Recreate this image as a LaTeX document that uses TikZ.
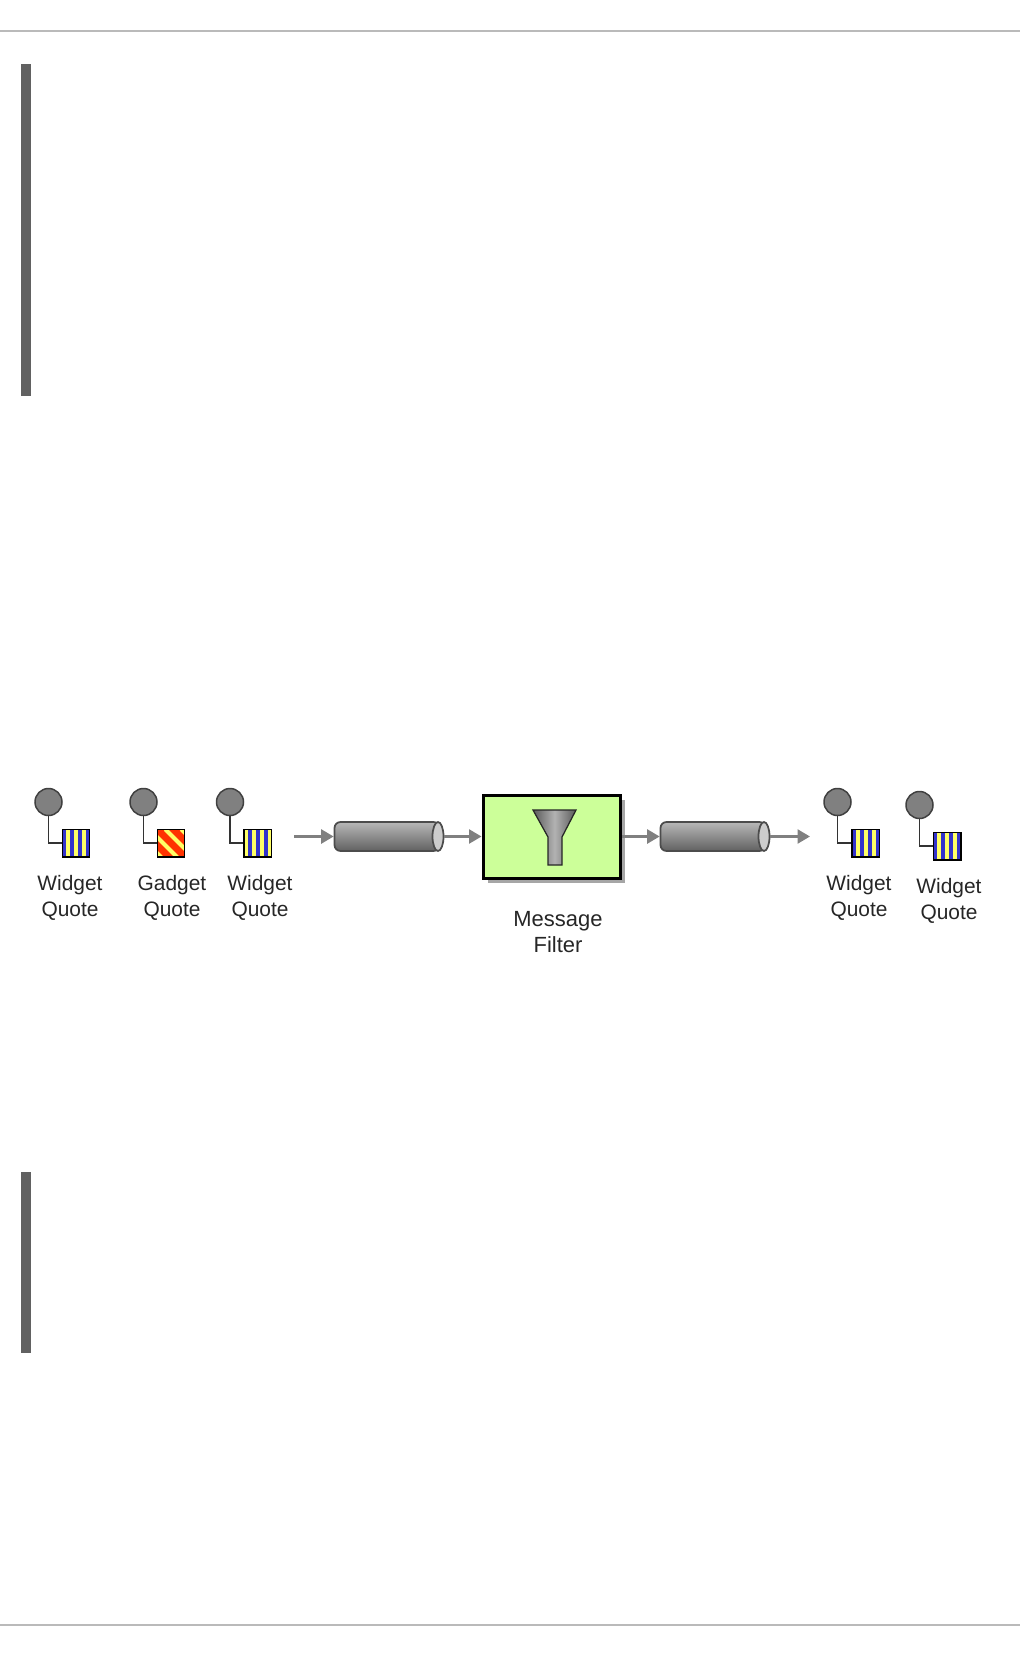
\documentclass[tikz,border=0pt]{standalone}
\usepackage{fontspec}
\setmainfont{Liberation Sans}
\usetikzlibrary{arrows.meta,shadows,shapes.geometric}
\definecolor{szurke}{HTML}{808080}
\definecolor{csik}{HTML}{FFFF66}
\definecolor{kek}{HTML}{3333CC}
\definecolor{piros}{HTML}{FF3300}
\definecolor{zold}{HTML}{CCFF99}
\tikzset{
  perem/.style={fill=black!62,draw=none},
  vonal/.style={fill=black!27,draw=none},
  kor/.style={circle,draw=black!75,fill=szurke,line width=.03cm,minimum size=.54cm,inner sep=0pt},
  lap/.style={rectangle,draw=black,line width=.03cm,minimum size=.55cm,inner sep=0pt},
  kekcsik/.style={lap,fill=csik,path picture={
      \foreach \i in {0,2,4,6}
        \fill[kek] ([xshift=\i*.08cm]path picture bounding box.north west) rectangle ++(4,28);}},
  sargacsik/.style={lap,fill=kek,path picture={
      \foreach \i in {0,2,4,6}
        \fill[csik] ([xshift=\i*.08cm]path picture bounding box.north west) rectangle ++(4,28);}},
  ferdecsik/.style={lap,fill=piros,path picture={
      \foreach \i in {-24,-8,8,24}
        \draw[csik,line width=.08cm] ([xshift=\i*.02cm]path picture bounding box.north west) -- ++(28,28);}},
  kapcs/.style={draw=black!80,line width=.035cm},
  cso/.style={rectangle,draw=black!70,line width=.035cm,rounded corners=.12cm,minimum width=2.1cm,
              minimum height=.58cm,inner sep=0pt,top color=black!28,middle color=black!40,bottom color=black!62},
  csovege/.style={ellipse,draw=black!70,line width=.035cm,fill=black!20,minimum width=.22cm,
              minimum height=.58cm,inner sep=0pt},
  nyil/.style={draw=szurke,line width=.05cm,-{Triangle[length=.25cm,width=.28cm]}},
  szuro/.style={rectangle,draw=black,line width=.06cm,fill=zold,minimum width=2.76cm,
                minimum height=1.66cm,inner sep=0pt,
                drop shadow={shadow xshift=.09cm,shadow yshift=-.09cm,fill=black!35,opacity=1}},
  tolcser/.style={draw=black!85,line width=.025cm,left color=black!65,right color=black!65,middle color=black!30},
  cimke/.style={align=center,text=black!85,inner sep=0pt,font=\fontsize{11.9}{14.8}\selectfont},
}
\begin{document}
\begin{tikzpicture}[x=.02cm,y=-.02cm]
  \useasboundingbox (0,0) rectangle (1020,1656);
  \fill[vonal] (0,30) rectangle (1020,32);
  \fill[vonal] (0,1624) rectangle (1020,1626);
  \fill[perem] (21,64) rectangle (31,396);
  \fill[perem] (21,1172) rectangle (31,1353);

  \node[kor] (K1) at (48.5,802) {};
  \node[kekcsik] (L1) at (76,843) {};
  \node[cimke] (C1) at (70,898) {Widget\\Quote};
  \node[kor] (K2) at (143.5,802) {};
  \node[ferdecsik] (L2) at (171,843) {};
  \node[cimke] (C2) at (172,898) {Gadget\\Quote};
  \node[kor] (K3) at (230,802) {};
  \node[sargacsik] (L3) at (257.5,843) {};
  \node[cimke] (C3) at (260,898) {Widget\\Quote};
  \node[kor] (K4) at (837.5,802) {};
  \node[kekcsik] (L4) at (865.5,843) {};
  \node[cimke] (C4) at (859,898) {Widget\\Quote};
  \node[kor] (K5) at (919.5,805) {};
  \node[kekcsik] (L5) at (947,846) {};
  \node[cimke] (C5) at (949,900.5) {Widget\\Quote};
  \draw[kapcs] (K1) |- (L1);
  \draw[kapcs] (K2) |- (L2);
  \draw[kapcs] (K3) |- (L3);
  \draw[kapcs] (K4) |- (L4);
  \draw[kapcs] (K5) |- (L5);

  \coordinate (be) at (294,836.5);
  \node[cso] (S1) at (387,836.5) {};
  \node[csovege] (V1) at (438,836.5) {};
  \node[szuro] (F) at (552,836.5) {};
  \node[cimke,font=\fontsize{12.5}{14.8}\selectfont] (FC) at (558,932) {Message\\Filter};
  \node[cso] (S2) at (713,836.5) {};
  \node[csovege] (V2) at (764,836.5) {};
  \coordinate (ki) at (810,836.5);
  \draw[tolcser] (533,810) -- (576,810) -- (562,837) -- (562,865) -- (548,865) -- (548,837) -- cycle;
  \draw[nyil] (be) -- (S1);
  \draw[nyil] (V1) -- (F);
  \draw[nyil] (F) -- (S2);
  \draw[nyil] (V2) -- (ki);
\end{tikzpicture}
\end{document}
